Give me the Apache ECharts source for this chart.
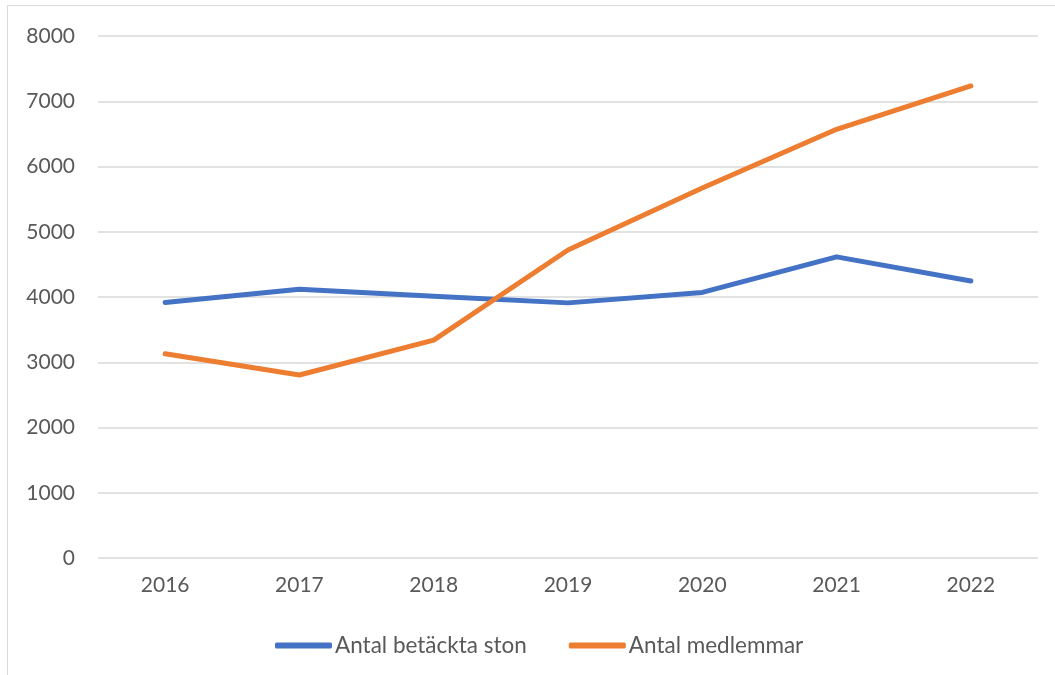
<!DOCTYPE html>
<html><head><meta charset="utf-8">
<script src="https://cdn.jsdelivr.net/npm/echarts@6/dist/echarts.min.js"></script>
<style>
html,body{margin:0;padding:0;background:#fff;}
#frame{position:absolute;left:7px;top:5px;width:1060px;height:680px;border:1.5px solid #d9d9d9;box-sizing:border-box;}
#c{position:absolute;left:0;top:0;width:1055px;height:675px;}
</style></head>
<body><div id="frame"></div><div id="c"></div>
<script>
const years = ['2016','2017','2018','2019','2020','2021','2022'];
const betacktaSton = [3915, 4120, 4010, 3910, 4070, 4615, 4245];
const medlemmar = [3130, 2805, 3340, 4720, 5670, 6570, 7235];
const seriesNames = ['Antal betäckta ston', 'Antal medlemmar'];
const yTicks = {min: 0, max: 8000, interval: 1000};

const chart = echarts.init(document.getElementById('c'), null, {renderer:'canvas'});
const font = 'Lato, "Open Sans", sans-serif';
chart.setOption({
  animation: false,
  textStyle: {fontFamily: font},
  grid: {left: 98, right: 17, top: 36, bottom: 117},
  legend: {
    top: 629, left: 270,
    itemWidth: 57, itemHeight: 6, itemGap: 42,
    icon: 'roundRect',
    textStyle: {color: '#595959', fontSize: 22.5, fontFamily: font, padding: [0,0,0,-2]},
    data: seriesNames
  },
  xAxis: {
    type: 'category', data: years, boundaryGap: true,
    axisLine: {show: false}, axisTick: {show: false},
    axisLabel: {color: '#595959', fontSize: 21, margin: 17, fontFamily: font}
  },
  yAxis: {
    type: 'value', min: yTicks.min, max: yTicks.max, interval: yTicks.interval,
    axisLine: {show: false}, axisTick: {show: false},
    axisLabel: {color: '#595959', fontSize: 21, margin: 23, fontFamily: font,
      formatter: v => String(v)},
    splitLine: {lineStyle: {color: '#d9d9d9', width: 1.5}}
  },
  series: [
    {name: seriesNames[0], type: 'line', data: betacktaSton, symbol: 'none',
     lineStyle: {color: '#4472C4', width: 5, cap: 'round', join: 'round'}, itemStyle: {color: '#4472C4'}},
    {name: seriesNames[1], type: 'line', data: medlemmar, symbol: 'none',
     lineStyle: {color: '#ED7D31', width: 5, cap: 'round', join: 'round'}, itemStyle: {color: '#ED7D31'}}
  ]
});
</script></body></html>
